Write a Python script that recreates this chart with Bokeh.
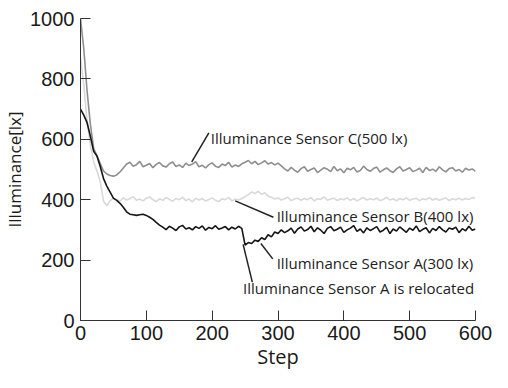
from bokeh.plotting import figure
from bokeh.models import Range1d, FixedTicker
from bokeh.core.properties import value
from bokeh.embed import file_html
from bokeh.resources import INLINE

# Steps (sampled every 5 steps)
steps = list(range(0, 601, 5))

# Illuminance Sensor A (black) - relocated at step ~247
sensor_a = [
    700, 680, 655, 610, 560, 545, 510, 470, 445, 425,           # 0-45
    405, 398, 388, 375, 360, 352, 350, 348, 350, 352,           # 50-95
    348, 342, 335, 325, 316,                                    # 100-120
    309, 301, 312, 306, 298, 310, 315, 303, 307, 300,           # 125-170
    311, 305, 313, 299, 308, 304, 314, 302, 306, 311,           # 175-220
    300, 309, 303, 312, 305,                                    # 225-245
    250, 258, 255, 266, 262, 274, 268, 284, 277, 293,           # 250-295
    288, 300, 291, 297, 306, 289, 303, 310, 296, 301,           # 300-345
    312, 294, 307, 299, 288, 305, 311, 297, 302, 309,           # 350-395
    292, 300, 306, 314, 295, 303, 290, 307, 298, 304,           # 400-445
    311, 293, 299, 308, 288, 303, 296, 310, 301, 292,           # 450-495
    306, 299, 313, 294, 302, 307, 290, 305, 298, 311,           # 500-545
    300, 293, 306, 302, 309, 291, 304, 297, 312, 299,           # 550-595
    303,                                                        # 600
]

# Illuminance Sensor B (light gray)
sensor_b = [
    870, 780, 660, 580, 525, 495, 460, 395, 380,                # 0-40
    397, 404, 401, 395, 406, 399, 403, 410, 398, 402,           # 45-90
    396, 405, 409, 400, 394, 403, 398, 407, 401, 395,           # 95-140
    404, 400, 408, 397, 402, 393, 405, 399, 403, 396,           # 145-190
    401, 406, 398, 394, 403, 400, 407, 396, 402, 399,           # 195-240
    404,                                                        # 245
    410, 417, 426, 420, 428, 418, 423, 412, 408, 402,           # 250-295
    406, 399, 403, 408, 397, 402, 405, 398, 404, 400,           # 300-345
    407, 396, 403, 401, 409, 398, 402, 405, 397, 403,           # 350-395
    400, 406, 398, 404, 396, 402, 407, 399, 403, 400,           # 400-445
    405, 397, 401, 408, 399, 403, 396, 404, 400, 406,           # 450-495
    398, 402, 405, 397, 403, 400, 407, 399, 404, 398,           # 500-545
    402, 406, 397, 403, 400, 405, 399, 404, 401, 407,           # 550-595
    405,                                                        # 600
]

# Illuminance Sensor C (medium gray)
sensor_c = [
    1000, 900, 760, 650, 570, 545, 520, 495, 485, 480,          # 0-45
    478, 482, 492, 505,                                         # 50-65
    518, 524, 511, 516, 527, 509, 514, 520, 506, 517,           # 70-115
    523, 512, 508, 519, 525, 510, 515, 507, 521, 513,           # 120-165
    518, 526, 509, 514, 505, 516, 522, 511, 507, 518,           # 170-215
    513, 524, 508, 515, 510, 519,                               # 220-245
    524, 530, 519, 527, 516, 522, 529, 518, 523, 515,           # 250-295
    521, 512,                                                   # 300-305
    502, 495, 507, 498, 491, 503, 509, 494, 500, 505,           # 310-355
    490, 498, 506, 501, 493, 510, 496, 502, 489, 504,           # 360-405
    499, 507, 492, 497, 511, 500, 494, 503, 508, 491,           # 410-455
    499, 505, 496, 490, 502, 509, 495, 500, 506, 493,           # 460-505
    498, 504, 490, 507, 497, 501, 494, 509, 499, 492,           # 510-555
    503, 506, 495, 500, 491, 504, 498, 502, 494,                # 560-600
]

assert len(sensor_a) == len(steps) and len(sensor_b) == len(steps) and len(sensor_c) == len(steps), (len(steps), len(sensor_a), len(sensor_b), len(sensor_c))

x_ticks = [0, 100, 200, 300, 400, 500, 600]
y_ticks = [0, 200, 400, 600, 800, 1000]

# Annotations: label text, text anchor (step, lx), leader line start/end
ann_text = ["Illuminance Sensor C(500 lx)", "Illuminance Sensor B(400 lx)",
            "Illuminance Sensor A(300 lx)", "Illuminance Sensor A is relocated"]
ann_x = [198, 298, 298, 247]
ann_y = [605, 345, 191, 106]
lead_x0 = [195, 293, 292, 261]
lead_y0 = [621, 342, 204, 127]
lead_x1 = [169, 235, 274, 247]
lead_y1 = [525, 396, 255, 252]

p = figure(width=492, height=372, output_backend="svg", toolbar_location=None,
           x_range=Range1d(0, 600), y_range=Range1d(0, 1000),
           min_border_left=72, min_border_right=17, min_border_top=18,
           min_border_bottom=48)
p.outline_line_color = None
p.xgrid.visible = False
p.ygrid.visible = False
p.background_fill_color = "white"
p.border_fill_color = "white"

p.line(steps, sensor_b, line_color="#d9d9d9", line_width=1.6)
p.line(steps, sensor_c, line_color="#8f8f8f", line_width=1.6)
p.line(steps, sensor_a, line_color="#161616", line_width=1.6)

p.segment(x0=lead_x0, y0=lead_y0, x1=lead_x1, y1=lead_y1,
          line_color="#222222", line_width=1.5)
p.text(x=ann_x, y=ann_y, text=ann_text, text_font=value("Open Sans"),
       text_font_size="15px", text_color="#222222",
       text_align="left", text_baseline="middle")

for ax, ticks in ((p.xaxis[0], x_ticks), (p.yaxis[0], y_ticks)):
    ax.ticker = FixedTicker(ticks=ticks)
    ax.minor_tick_line_color = None
    ax.major_tick_in = 10
    ax.major_tick_out = 0
    ax.axis_line_color = "#333333"
    ax.major_tick_line_color = "#333333"
    ax.major_label_text_font = "Liberation Sans"
    ax.major_label_text_font_size = "20px"
    ax.major_label_text_color = "#1a1a1a"
    ax.axis_label_text_font = "Open Sans"
    ax.axis_label_text_font_style = "normal"
    ax.axis_label_text_color = "#1a1a1a"

p.xaxis.axis_label = "Step"
p.xaxis.axis_label_text_font_size = "20px"
p.xaxis.major_label_standoff = 5
p.xaxis.axis_label_standoff = 0
p.yaxis.axis_label = "Illuminance[lx]"
p.yaxis.axis_label_text_font_size = "17px"
p.yaxis.major_label_standoff = 6
p.yaxis.axis_label_standoff = 1

open("out.html", "w").write(file_html(p, INLINE))
